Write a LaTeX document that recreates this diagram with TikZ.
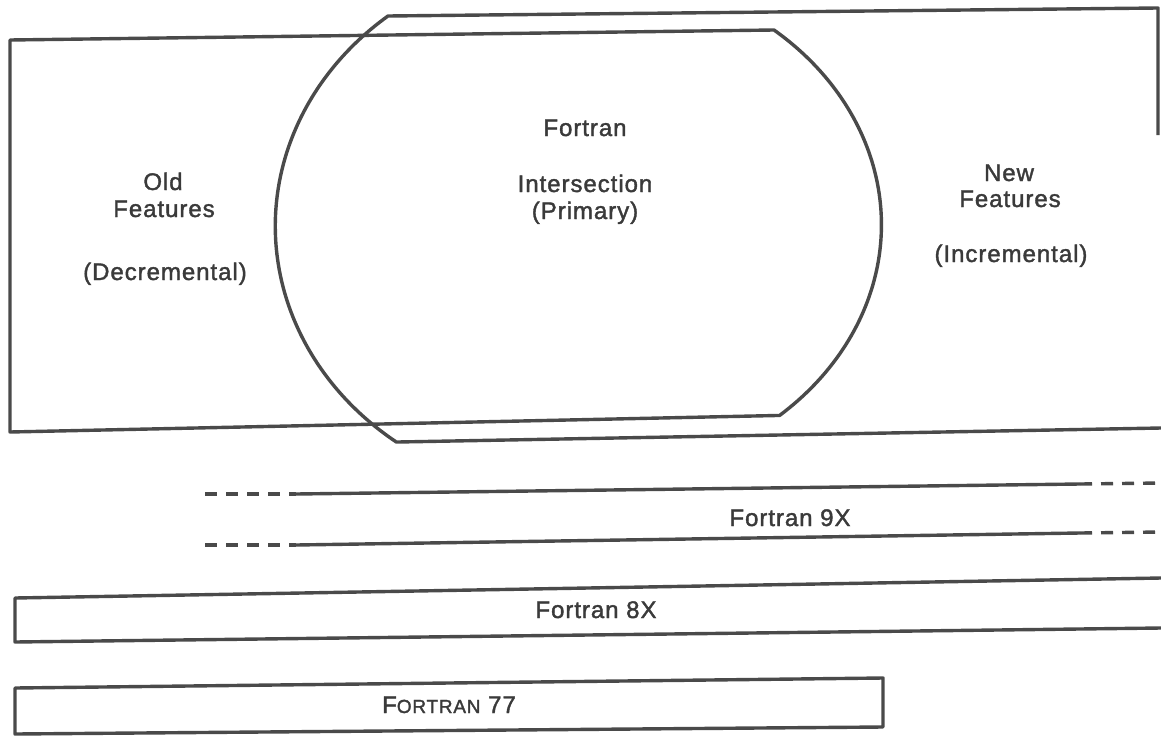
\documentclass[tikz,border=0pt]{standalone}
\usepackage{fontspec}
\setmainfont{Liberation Sans}[LetterSpace=4, FakeBold=1.6]
\definecolor{ink}{HTML}{4A4A4A}
\definecolor{inktext}{HTML}{3A3A3A}
\newcommand{\fSmallCaps}[1]{{\fontsize{19}{22}\selectfont #1}}

\begin{document}
\begin{tikzpicture}[x=1pt,y=-1pt,
  font={\fontsize{24}{28}\selectfont},
  lbl/.style={anchor=base, inner sep=0pt, text=inktext},
  rim/.style={draw=ink, line width=3.4pt, line join=round},
  rimdash/.style={rim, dash pattern=on 12pt off 9pt}]
\useasboundingbox (0,0) rectangle (1161,736);
\draw[rim] (10,40) -- (774,30) arc[start angle=-49.8, end angle=48.4, x radius=303, y radius=255] -- (10,432) -- cycle;
\draw[rim] (1158,135) -- (1158,8) -- (388,16) arc[start angle=231.1, end angle=126.9, x radius=303, y radius=270] -- (1161,428);
\node[lbl] (oldA) at (163,190) {Old};
\node[lbl] (oldB) at (164,217) {Features};
\node[lbl] (oldC) at (165,280) {(Decremental)};
\node[lbl] (midA) at (585,136) {Fortran};
\node[lbl] (midB) at (585,192) {Intersection};
\node[lbl] (midC) at (585,219) {(Primary)};
\node[lbl] (newA) at (1009,181) {New};
\node[lbl] (newB) at (1010,207) {Features};
\node[lbl] (newC) at (1011,262) {(Incremental)};
\draw[rimdash] (205,494) -- (296,494);
\draw[rim] (296,494) -- (1080,484);
\draw[rimdash] (1080,484) -- (1161,483);
\draw[rimdash] (205,545) -- (296,545);
\draw[rim] (296,545) -- (1080,533);
\draw[rimdash] (1080,533) -- (1161,532);
\node[lbl] (f9x) at (790,526) {Fortran 9X};
\draw[rim] (1161,578) -- (15,598) -- (15,642) -- (1161,628);
\node[lbl] (f8x) at (596,618) {Fortran 8X};
\draw[rim] (15,688) -- (883,678) -- (883,727) -- (15,734) -- cycle;
\node[lbl] (f77) at (449,713) {F\fSmallCaps{ORTRAN} 77};
\end{tikzpicture}
\end{document}
